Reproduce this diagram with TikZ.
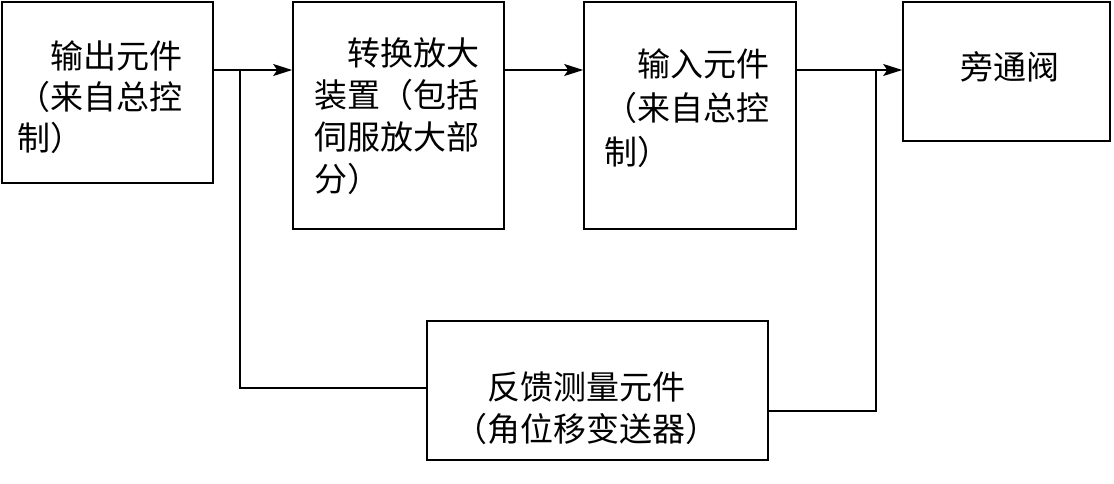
\documentclass[tikz,border=0pt]{standalone}
\usepackage{fontspec}
\newfontfamily\cjk{Noto Sans CJK SC}
\usetikzlibrary{arrows.meta}
\begin{document}
\begin{tikzpicture}[x=1pt,y=-1pt,
  box/.style={draw,line width=1.6pt,inner sep=0pt},
  lbl/.style={font=\cjk\fontsize{33}{41}\selectfont,align=left,inner sep=0pt},
  conn/.style={line width=1.6pt},
  arr/.style={conn,-{Stealth[length=19pt,width=12pt,inset=4pt]}}]
\useasboundingbox (0,0) rectangle (1114,483);
\fill[white] (0,0) rectangle (1114,483);
% boxes
\node[box,minimum width=211pt,minimum height=181pt] (b1) at (107.5,92.5) {};
\node[box,minimum width=211pt,minimum height=227pt] (b2) at (398.5,115.5) {};
\node[box,minimum width=212pt,minimum height=227pt] (b3) at (690,115.5) {};
\node[box,minimum width=207pt,minimum height=139pt] (b4) at (1006.5,71.5) {};
\node[box,minimum width=341pt,minimum height=139pt] (b5) at (597.5,390.5) {};
% texts
\node[lbl,anchor=north west] (t1) at (17,40) {\hspace*{1em}输出元件\\（来自总控\\制）};
\node[lbl,anchor=north west,font=\cjk\fontsize{33}{42}\selectfont] (t2) at (314,38) {\hspace*{1em}转换放大\\装置（包括\\伺服放大部\\分）};
\node[lbl,anchor=north west,font=\cjk\fontsize{33}{44}\selectfont] (t3) at (604,48) {\hspace*{1em}输入元件\\（来自总控\\制）};
\node[lbl] (t4) at (1010,67) {旁通阀};
\node[lbl,align=center,font=\cjk\fontsize{33}{42}\selectfont] (t5) at (586,408) {反馈测量元件\\（角位移变送器）};
% connectors
\coordinate (j1) at (240,70);
\coordinate (j2) at (876,70);
\draw[arr] (b1.east |- j1) -- (b2.west |- j1);
\draw[arr] (b2.east |- j1) -- (b3.west |- j1);
\draw[arr] (b3.east |- j1) -- (b4.west |- j1);
\draw[conn] (j1) |- (b5.west |- 0,388);
\draw[conn] (b5.east |- 0,411) -| (j2);
\end{tikzpicture}
\end{document}
